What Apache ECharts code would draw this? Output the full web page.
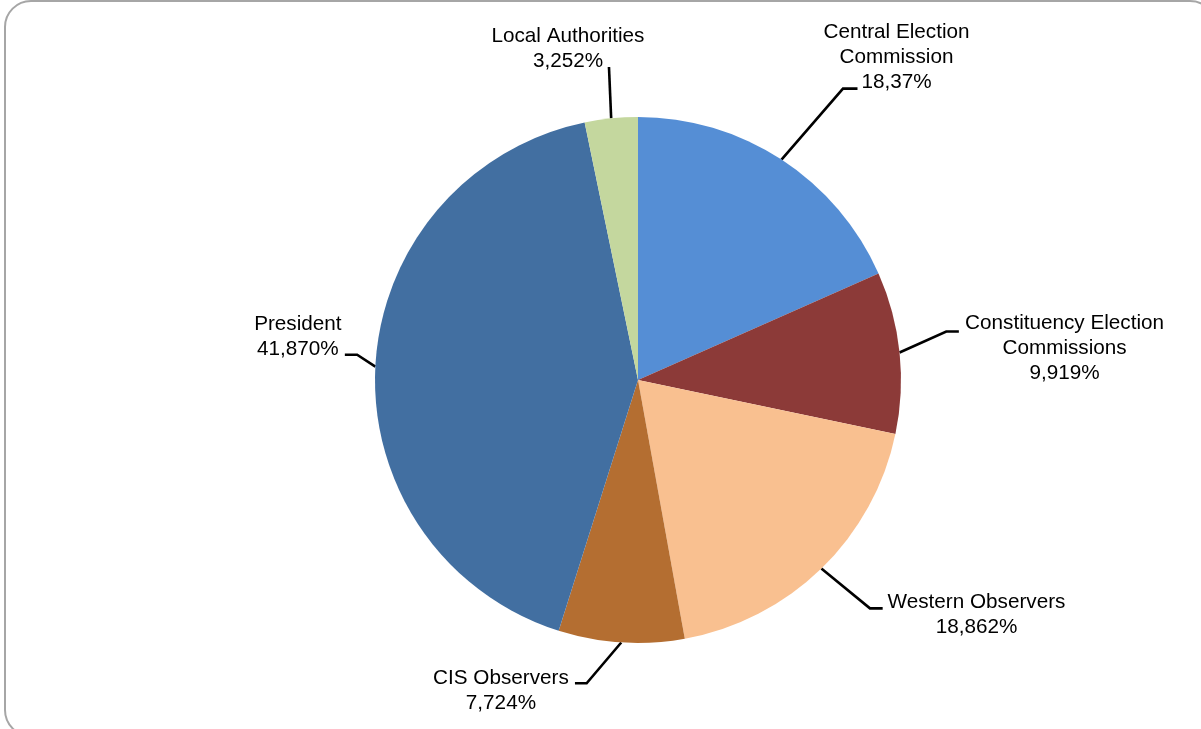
<!DOCTYPE html>
<html>
<head>
<meta charset="utf-8">
<title>Expenditure shares</title>
<script src="https://cdn.jsdelivr.net/npm/echarts@6/dist/echarts.min.js"></script>
<style>
  html, body { margin: 0; padding: 0; background: #ffffff; }
  #chart { width: 1201px; height: 729px; }
</style>
</head>
<body>
<div id="chart"></div>
<script>
// Slices, clockwise from twelve o'clock
const categories = [
  'Central Election\nCommission',
  'Constituency Election\nCommissions',
  'Western Observers',
  'CIS Observers',
  'President',
  'Local Authorities'
];
const shares = [18.37, 9.919, 18.862, 7.724, 41.870, 3.252];
const shareLabels = ['18,37%', '9,919%', '18,862%', '7,724%', '41,870%', '3,252%'];
const sliceColors = ['#558ED5', '#8C3A38', '#F9C090', '#B46E31', '#426FA1', '#C4D79E'];

// Leader-line geometry per slice, relative to the point where the line leaves the pie:
// bend = first segment, run = horizontal tail, text = label centre relative to tail end
const labelGuides = [
  { bend: [61.5, -71], run: 14.5, text: [39, -31] },
  { bend: [46.7, -21], run: 12.6, text: [105.7, 17.3] },
  { bend: [48.6, 39.8], run: 12.7, text: [93.8, 6.8] },
  { bend: [-34.6, 40.8], run: -11.7, text: [-74, 7.2] },
  { bend: [-18.2, -11.8], run: -12.3, text: [-47, -18.2] },
  { bend: [-2.2, -51.4], run: 0, text: [-41, -18.2] }
];

const chart = echarts.init(document.getElementById('chart'), null, { renderer: 'canvas' });

const option = {
  backgroundColor: '#ffffff',
  animation: false,
  graphic: [{
    type: 'rect',
    silent: true,
    shape: { x: 5, y: 1, width: 1211, height: 735, r: 26 },
    style: { fill: 'none', stroke: '#A6A6A6', lineWidth: 2 }
  }],
  series: [{
    type: 'pie',
    center: [638, 380],
    radius: 263,
    startAngle: 90,
    clockwise: true,
    avoidLabelOverlap: false,
    emphasis: { disabled: true },
    itemStyle: { borderWidth: 0 },
    label: {
      show: true,
      position: 'outside',
      color: '#000000',
      fontFamily: '"Liberation Sans", Arial, sans-serif',
      fontSize: 20.7,
      lineHeight: 25,
      formatter: function (p) { return p.name + '\n' + shareLabels[p.dataIndex]; }
    },
    labelLine: {
      show: true,
      length: 30,
      length2: 12,
      lineStyle: { color: '#000000', width: 2.6 }
    },
    labelLayout: function (p) {
      const g = labelGuides[p.dataIndex];
      const start = p.labelLinePoints[0];
      const bend = [start[0] + g.bend[0], start[1] + g.bend[1]];
      const end = [bend[0] + g.run, bend[1]];
      return {
        x: end[0] + g.text[0],
        y: end[1] + g.text[1],
        align: 'center',
        verticalAlign: 'middle',
        labelLinePoints: [start, bend, end]
      };
    },
    data: categories.map(function (name, i) {
      return { name: name, value: shares[i], itemStyle: { color: sliceColors[i] } };
    })
  }]
};

chart.setOption(option);
</script>
</body>
</html>
